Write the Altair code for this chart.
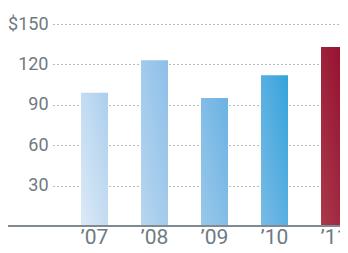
import altair as alt
import pandas as pd

years = ["’07", "’08", "’09", "’10", "’11"]
values = [99, 123, 95, 112, 133]
y_ticks = [30, 60, 90, 120, 150]
light = ["#dceaf6", "#b7d6f0", "#9ac8ea", "#7abbe5", "#a93a4b"]
dark = ["#abcfee", "#8dbfe8", "#6ab2e3", "#35a3dc", "#930a2c"]

df = pd.DataFrame({"year": years, "value": values})

x_enc = alt.X(
    "year:N",
    sort=years,
    scale=alt.Scale(domain=years, range=[0, 295], paddingInner=0.55,
                    paddingOuter=0.2333, align=1),
    axis=alt.Axis(
        title=None, domain=False, ticks=False, grid=False, labelAngle=0,
        labelFont="Roboto", labelFontSize=21, labelColor="#6e7a83", labelPadding=0,
    ),
)
y_enc = alt.Y(
    "value:Q",
    scale=alt.Scale(domain=[0, 150], nice=False, zero=True),
    axis=alt.Axis(
        title=None, domain=False, ticks=False, grid=True, values=y_ticks,
        gridDash=[1, 3], gridColor="#6f7880", gridWidth=1,
        labelFont="Roboto", labelFontSize=18, labelColor="#6e7a83", labelPadding=5,
        labelExpr="datum.value == 150 ? '$150' : datum.label",
    ),
)

layers = []
for yr, lo, hi in zip(years, light, dark):
    grad = alt.Gradient(
        gradient="linear",
        stops=[alt.GradientStop(color=lo, offset=0), alt.GradientStop(color=hi, offset=1)],
        x1=0, y1=1, x2=1, y2=0,
    )
    layers.append(
        alt.Chart(df)
        .transform_filter(alt.datum.year == yr)
        .mark_bar(color=grad)
        .encode(x=x_enc, y=y_enc)
    )

base_line = (
    alt.Chart(pd.DataFrame({"v": [0]}))
    .mark_rule(color="#7f8a91", strokeWidth=2)
    .encode(x=alt.value(-45), x2=alt.value(300), y=alt.datum(0))
)

chart = (
    alt.layer(*layers, base_line)
    .properties(
        width=287, height=202,
        autosize=alt.AutoSizeParams(type="none"),
        padding={"left": 45, "top": 16, "right": 0, "bottom": 19},
    )
    .configure_view(stroke=None)
)

chart.save("out.html", embed_options={"renderer": "svg", "actions": False})
